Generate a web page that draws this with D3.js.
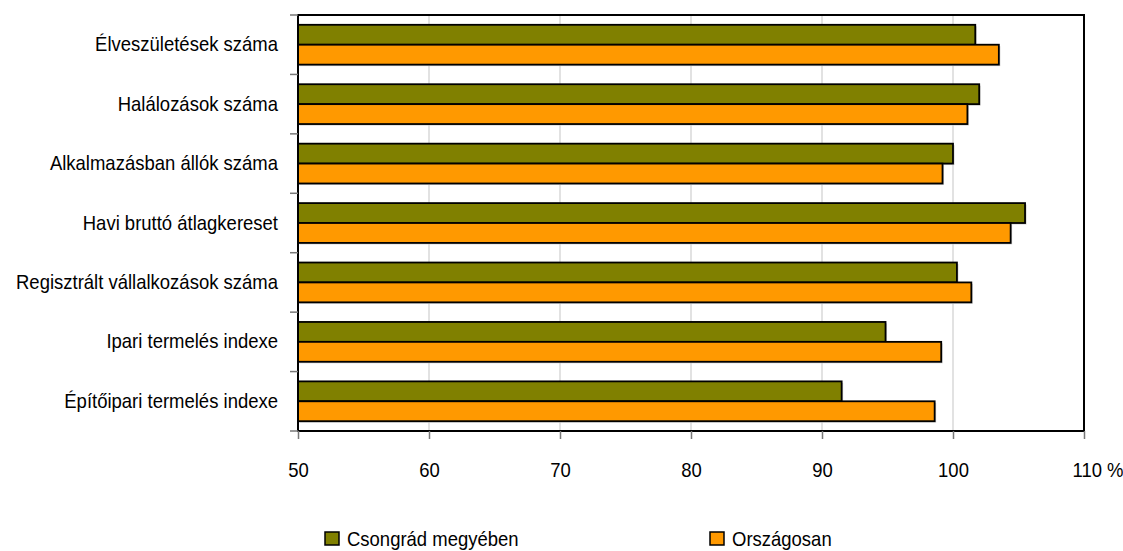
<!DOCTYPE html>
<html>
<head>
<meta charset="utf-8">
<script src="https://cdn.jsdelivr.net/npm/d3@7"></script>
<style>
  html, body { margin: 0; padding: 0; background: #fff; }
  svg { display: block; font-family: "Liberation Sans", Arial, sans-serif; }
</style>
</head>
<body>
<svg id="chart" width="1123" height="551"></svg>
<script>
const categories = [
  "Élveszületések száma",
  "Halálozások száma",
  "Alkalmazásban állók száma",
  "Havi bruttó átlagkereset",
  "Regisztrált vállalkozások száma",
  "Ipari termelés indexe",
  "Építőipari termelés indexe"
];
const seriesNames = ["Csongrád megyében", "Országosan"];
const csongrad = [101.7, 102.0, 100.0, 105.5, 100.3, 94.85, 91.5];
const orszagosan = [103.5, 101.1, 99.2, 104.4, 101.4, 99.1, 98.6];
const xTicks = [50, 60, 70, 80, 90, 100, 110];
const xTickLabels = ["50", "60", "70", "80", "90", "100", "110 %"];
const colors = ["#808000", "#FF9900"];

const svg = d3.select("#chart");
const pLeft = 298, pRight = 1084, pTop = 15, pBottom = 431;
const fontSize = 20, squeeze = 0.925;

const x = d3.scaleLinear().domain([50, 110]).range([pLeft, pRight]);
const y = d3.scaleBand().domain(categories).range([pTop, pBottom]).paddingInner(0.33).paddingOuter(0.165);
const ySub = d3.scaleBand().domain([0, 1]).range([0, y.bandwidth()]);

const data = categories.map((c, i) => ({ cat: c, vals: [csongrad[i], orszagosan[i]] }));

// gridlines
svg.append("g").selectAll("line").data(xTicks.slice(1, -1)).join("line")
  .attr("x1", d => x(d)).attr("x2", d => x(d))
  .attr("y1", pTop).attr("y2", pBottom)
  .attr("stroke", "#d9d9d9").attr("stroke-width", 1.5);

// bars
const groups = svg.append("g").selectAll("g").data(data).join("g")
  .attr("transform", d => `translate(0,${y(d.cat)})`);

groups.selectAll("rect.shadow").data(d => d.vals).join("rect")
  .attr("class", "shadow")
  .attr("x", x(50) + 1.5)
  .attr("y", (d, i) => ySub(i) + 1.5)
  .attr("width", d => x(d) - x(50))
  .attr("height", ySub.bandwidth())
  .attr("fill", "#cfcfcf");

groups.selectAll("rect.bar").data(d => d.vals).join("rect")
  .attr("class", "bar")
  .attr("x", x(50))
  .attr("y", (d, i) => ySub(i))
  .attr("width", d => x(d) - x(50))
  .attr("height", ySub.bandwidth())
  .attr("fill", (d, i) => colors[i])
  .attr("stroke", "#000").attr("stroke-width", 1.8);

// plot border
svg.append("rect")
  .attr("x", pLeft).attr("y", pTop)
  .attr("width", pRight - pLeft).attr("height", pBottom - pTop)
  .attr("fill", "none").attr("stroke", "#000").attr("stroke-width", 2);

// x axis
const xAxis = d3.axisBottom(x).tickValues(xTicks)
  .tickFormat((d, i) => xTickLabels[i]).tickSize(8);
const gx = svg.append("g").attr("transform", `translate(0,${pBottom})`).call(xAxis);
gx.select(".domain").remove();
gx.selectAll(".tick line").attr("stroke", "#777").attr("stroke-width", 1.5);
gx.selectAll(".tick text")
  .attr("font-size", fontSize).attr("fill", "#000")
  .attr("font-family", '"Liberation Sans", Arial, sans-serif')
  .attr("y", 46).attr("dy", 0)
  .attr("transform", `scale(${squeeze},1)`);
gx.selectAll(".tick").filter((d, i) => i === xTicks.length - 1).select("text")
  .attr("text-anchor", "start").attr("x", -13);

// y axis ticks at category boundaries
const boundaries = categories.map(c => y(c) - y.step() * y.paddingInner() / 2);
boundaries.push(pBottom);
svg.append("g").selectAll("line").data(boundaries).join("line")
  .attr("x1", pLeft - 8).attr("x2", pLeft)
  .attr("y1", d => d).attr("y2", d => d)
  .attr("stroke", "#777").attr("stroke-width", 1.5);

// y labels
svg.append("g").selectAll("text").data(categories).join("text")
  .attr("transform", d => `translate(${pLeft - 20},${y(d) + y.bandwidth() / 2 + 6.5}) scale(${squeeze},1)`)
  .attr("text-anchor", "end")
  .attr("font-size", fontSize)
  .text(d => d);

// legend
const legendX = [325, 710];
const lg = svg.append("g").selectAll("g").data(seriesNames).join("g")
  .attr("transform", (d, i) => `translate(${legendX[i]},532)`);
lg.append("rect").attr("width", 14).attr("height", 13)
  .attr("fill", (d, i) => colors[i]).attr("stroke", "#000").attr("stroke-width", 1.5);
lg.append("text")
  .attr("transform", `translate(22,13.5) scale(${squeeze},1)`)
  .attr("font-size", fontSize).text(d => d);
</script>
</body>
</html>
